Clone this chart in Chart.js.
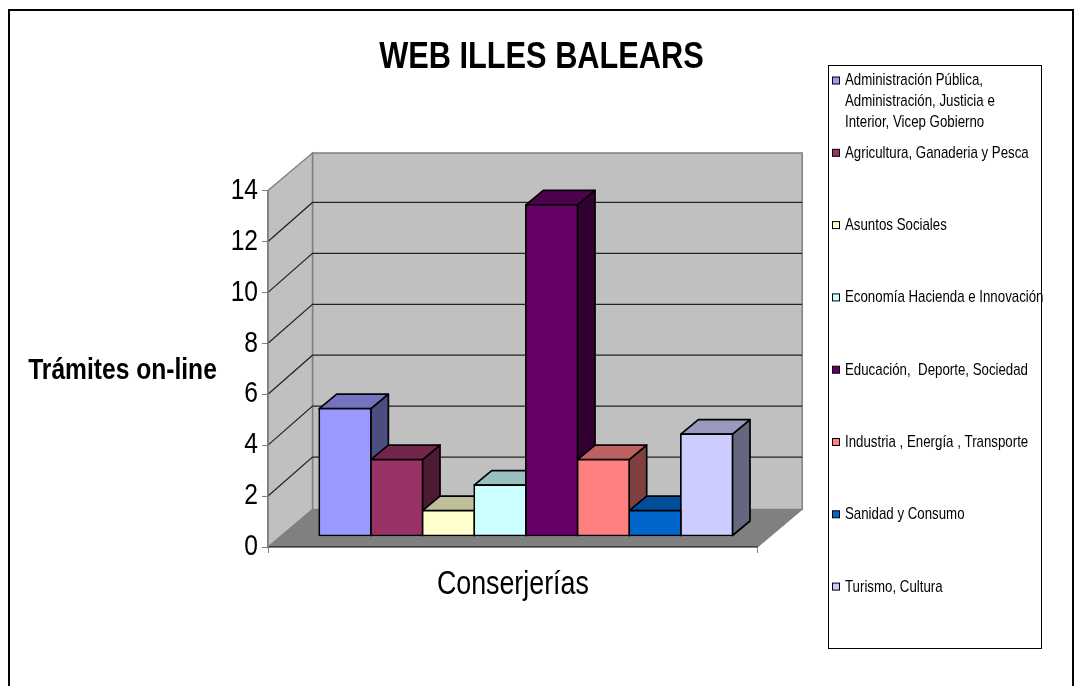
<!DOCTYPE html>
<html>
<head>
<meta charset="utf-8">
<style>html,body{margin:0;padding:0;background:#fff;overflow:hidden}canvas{display:block}</style>
<script src="https://cdn.jsdelivr.net/npm/chart.js@4/dist/chart.umd.min.js"></script>
</head>
<body>
<canvas id="c" width="1074" height="686"></canvas>
<script>
const chartTitle = "WEB ILLES BALEARS";
const yAxisTitle = "Trámites on-line";
const xAxisTitle = "Conserjerías";
const categories = [""];
const seriesNames = [
  ["Administración Pública,", "Administración, Justicia e", "Interior, Vicep Gobierno"],
  ["Agricultura, Ganaderia y Pesca"],
  ["Asuntos Sociales"],
  ["Economía Hacienda e Innovación"],
  ["Educación,  Deporte, Sociedad"],
  ["Industria , Energía , Transporte"],
  ["Sanidad y Consumo"],
  ["Turismo, Cultura"]
];
const seriesValues = [5, 3, 1, 2, 13, 3, 1, 4];
const seriesColors = ["#9999FF", "#993366", "#FFFFCC", "#CCFFFF", "#660066", "#FF8080", "#0066CC", "#CCCCFF"];
const yMin = 0, yMax = 14, yStep = 2;

const FONT = '"Liberation Sans", Arial, sans-serif';
const TEXT_SQUEEZE = 0.82;
const WALL_DX = 44.5, WALL_DY = -37.5, GRID_DY = -39;
const BAR_DX = 13, BAR_DY = -11;
const DEPTH_DX = 17.5, DEPTH_DY = -14.5;

function shade(hex, k) {
  const n = parseInt(hex.slice(1), 16);
  return `rgb(${Math.round((n >> 16 & 255) * k)},${Math.round((n >> 8 & 255) * k)},${Math.round((n & 255) * k)})`;
}
function poly(ctx, pts, fill, stroke, lw) {
  ctx.beginPath();
  pts.forEach((p, i) => i ? ctx.lineTo(p[0], p[1]) : ctx.moveTo(p[0], p[1]));
  ctx.closePath();
  if (fill) { ctx.fillStyle = fill; ctx.fill(); }
  if (stroke) { ctx.strokeStyle = stroke; ctx.lineWidth = lw; ctx.stroke(); }
}

const scene3d = {
  id: "scene3d",
  afterLayout(chart) {
    chart.titleBlock.left = 9;
    chart.titleBlock.right = 1074;
  },
  beforeDraw(chart) {
    const { ctx, chartArea: a, scales: { y } } = chart;
    const L = a.left, R = a.right, T = y.getPixelForValue(yMax), B = y.getPixelForValue(yMin);
    ctx.save();
    // page frame
    ctx.strokeStyle = "#000"; ctx.lineWidth = 2;
    ctx.beginPath();
    ctx.moveTo(9, 686); ctx.lineTo(9, 10); ctx.lineTo(1073, 10); ctx.lineTo(1073, 686);
    ctx.stroke();
    // walls
    poly(ctx, [[L + WALL_DX, T + WALL_DY], [R + WALL_DX, T + WALL_DY], [R + WALL_DX, B + WALL_DY], [L + WALL_DX, B + WALL_DY]], "#C0C0C0", "#808080", 1.5);
    poly(ctx, [[L, T], [L + WALL_DX, T + WALL_DY], [L + WALL_DX, B + WALL_DY], [L, B]], "#C0C0C0", "#808080", 1.5);
    poly(ctx, [[L, B], [R, B], [R + WALL_DX, B + WALL_DY], [L + WALL_DX, B + WALL_DY]], "#808080", "#808080", 1);
    // gridlines
    ctx.strokeStyle = "#222"; ctx.lineWidth = 1.2;
    y.ticks.forEach(t => {
      if (t.value === yMin || t.value === yMax) return;
      const py = y.getPixelForValue(t.value);
      ctx.beginPath();
      ctx.moveTo(L, py);
      ctx.lineTo(L + WALL_DX, py + GRID_DY);
      ctx.lineTo(R + WALL_DX, py + GRID_DY);
      ctx.stroke();
    });
    ctx.restore();
  },
  beforeDatasetsDraw(chart) {
    const { ctx } = chart;
    ctx.save();
    chart.data.datasets.forEach((ds, i) => {
      const el = chart.getDatasetMeta(i).data[0];
      const x0 = el.x - el.width / 2 + BAR_DX, x1 = el.x + el.width / 2 + BAR_DX;
      const yt = el.y + BAR_DY, yb = el.base + BAR_DY;
      ctx.lineJoin = "round";
      poly(ctx, [[x1, yt], [x1 + DEPTH_DX, yt + DEPTH_DY], [x1 + DEPTH_DX, yb + DEPTH_DY], [x1, yb]], shade(ds.backgroundColor, 0.5), "#000", 1.7);
      poly(ctx, [[x0, yt], [x0 + DEPTH_DX, yt + DEPTH_DY], [x1 + DEPTH_DX, yt + DEPTH_DY], [x1, yt]], shade(ds.backgroundColor, 0.75), "#000", 1.7);
    });
    ctx.restore();
    ctx.save();
    ctx.translate(BAR_DX, BAR_DY);
  },
  afterDatasetsDraw(chart) {
    chart.ctx.restore();
  },
  afterDraw(chart) {
    const { ctx } = chart;
    ctx.save();
    // y axis title (horizontal)
    ctx.fillStyle = "#000";
    ctx.textBaseline = "middle";
    ctx.textAlign = "center";
    ctx.font = "bold 30px " + FONT;
    ctx.fillText(yAxisTitle, 122.5, 370.5);
    // legend
    ctx.strokeStyle = "#000"; ctx.lineWidth = 1;
    ctx.strokeRect(828.5, 65.5, 213, 583);
    ctx.textAlign = "left";
    ctx.font = "16.2px " + FONT;
    seriesNames.forEach((lines, i) => {
      const cy = 81 + i * 72.3;
      ctx.fillStyle = seriesColors[i];
      ctx.fillRect(832.5, cy - 4, 7, 7);
      ctx.strokeStyle = "#000"; ctx.lineWidth = 1;
      ctx.strokeRect(832.5, cy - 4, 7, 7);
      ctx.fillStyle = "#000";
      lines.forEach((s, j) => ctx.fillText(s, 845, cy + j * 21));
    });
    ctx.restore();
  }
};

const canvas = document.getElementById("c");
const ctx2d = canvas.getContext("2d");
const nativeFillText = ctx2d.fillText.bind(ctx2d);
// the reference's text is tall and narrow: squeeze every label horizontally
ctx2d.fillText = function (s, x, y, maxWidth) {
  ctx2d.save();
  ctx2d.translate(x, y);
  ctx2d.scale(TEXT_SQUEEZE, 1);
  if (maxWidth === undefined) nativeFillText(s, 0, 0); else nativeFillText(s, 0, 0, maxWidth / TEXT_SQUEEZE);
  ctx2d.restore();
};

new Chart(canvas, {
  type: "bar",
  plugins: [scene3d],
  data: {
    labels: categories,
    datasets: seriesNames.map((n, i) => ({
      label: n.join(" "),
      data: [seriesValues[i]],
      backgroundColor: seriesColors[i],
      borderColor: "#000",
      borderWidth: 1.7,
      borderSkipped: false,
      inflateAmount: 0.85,
      barPercentage: 1,
      categoryPercentage: 0.844,
      clip: false
    }))
  },
  options: {
    responsive: false,
    animation: false,
    layout: { padding: { left: 0, top: 0, bottom: 0, right: 316.3 } },
    plugins: {
      legend: { display: false },
      tooltip: { enabled: false },
      title: {
        display: true,
        text: chartTitle,
        color: "#000",
        font: { family: FONT, size: 37.5, weight: "bold", lineHeight: 1.2 },
        padding: { top: 35.5, bottom: 110.0 }
      }
    },
    scales: {
      x: {
        grid: { drawOnChartArea: false, drawTicks: true, tickLength: 6, color: "#808080", offset: true },
        border: { color: "#404040", width: 1.5 },
        ticks: { display: false },
        title: { display: true, text: xAxisTitle, color: "#000", font: { family: FONT, size: 32.7, lineHeight: 1.2 }, padding: { top: 0, bottom: 81 } },
        afterFit(s) { s.height = 139; }
      },
      y: {
        min: yMin, max: yMax,
        ticks: { stepSize: yStep, color: "#000", font: { family: FONT, size: 30 }, padding: 4 },
        grid: { drawOnChartArea: false, drawTicks: true, tickLength: 6, color: "#808080" },
        border: { color: "#808080", width: 1.5 },
        afterFit(s) { s.width = 268; }
      }
    }
  }
});
</script>
</body>
</html>
